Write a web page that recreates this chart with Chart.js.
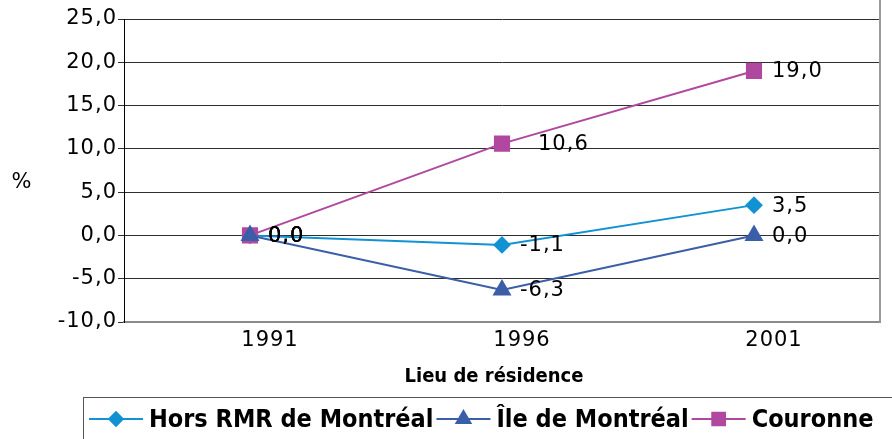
<!DOCTYPE html>
<html>
<head>
<meta charset="utf-8">
<script src="https://cdn.jsdelivr.net/npm/chart.js@4.4.0/dist/chart.umd.min.js"></script>
<style>
  body { margin: 0; background: #fff; }
  #wrap { width: 892px; height: 439px; }
</style>
</head>
<body>
<div id="wrap"><canvas id="evo-chart" width="892" height="439"></canvas></div>
<script>
// years on the x axis
var years = ['1991', '1996', '2001'];
// variation (%) per place of residence
var horsRmr = [0.0, -1.1, 3.5];
var ileMontreal = [0.0, -6.3, 0.0];
var couronne = [0.0, 10.6, 19.0];
var seriesNames = ['Hors RMR de Montréal', 'Île de Montréal', 'Couronne'];
var yTicks = [-10, -5, 0, 5, 10, 15, 20, 25];

var FONT = "'DejaVu Sans', sans-serif";
var FONT_BOLD = "'DejaVu Sans Condensed', 'Liberation Sans Narrow', sans-serif";

var fmt = function (v) { return v.toFixed(1).replace('.', ','); };

// labels next to each point, one dx per point
var labelDx = [[18, 18, 18], [18, 18, 18], [18, 36, 18]];

var spacing = function (chart) { chart.ctx.letterSpacing = '1px'; };

var extrasPlugin = {
  id: 'extras',
  beforeUpdate: spacing,
  beforeLayout: spacing,
  beforeDraw: spacing,
  afterDatasetsDraw: function (chart) {
    var ctx = chart.ctx;
    ctx.save();
    ctx.font = '21px ' + FONT;
    ctx.fillStyle = '#000';
    ctx.textBaseline = 'middle';
    ctx.textAlign = 'left';
    chart.data.datasets.forEach(function (ds, i) {
      var meta = chart.getDatasetMeta(i);
      meta.data.forEach(function (pt, j) {
        ctx.fillText(fmt(ds.data[j]), pt.x + labelDx[i][j], pt.y + 1);
      });
    });
    ctx.restore();
  },
  afterDraw: function (chart) {
    var ctx = chart.ctx;
    var area = chart.chartArea;
    ctx.save();
    // right border of plot
    ctx.strokeStyle = '#9a9a9a';
    ctx.lineWidth = 2;
    ctx.beginPath();
    ctx.moveTo(area.right, 0);
    ctx.lineTo(area.right, area.bottom);
    ctx.stroke();

    // "%" axis title
    ctx.fillStyle = '#000';
    ctx.font = '21px ' + FONT;
    ctx.textAlign = 'center';
    ctx.textBaseline = 'middle';
    ctx.fillText('%', 22, 183);

    // x axis title
    ctx.letterSpacing = '0px';
    ctx.font = 'bold 20px ' + FONT_BOLD;
    ctx.fillText('Lieu de résidence', 494, 377);

    // legend box
    ctx.strokeStyle = '#555';
    ctx.lineWidth = 1;
    ctx.strokeRect(83.5, 397.5, 830, 60);

    var x = 89, y = 419;
    ctx.font = 'bold 25px ' + FONT_BOLD;
    ctx.textAlign = 'left';
    chart.data.datasets.forEach(function (ds, i) {
      ctx.strokeStyle = ds.borderColor;
      ctx.lineWidth = 2;
      ctx.beginPath();
      ctx.moveTo(x, y);
      ctx.lineTo(x + 54, y);
      ctx.stroke();
      ctx.fillStyle = ds.pointBackgroundColor;
      ctx.strokeStyle = ds.pointBackgroundColor;
      Chart.helpers.drawPoint(ctx, {
        pointStyle: ds.pointStyle,
        radius: ds.pointRadius * 0.9,
        rotation: 0,
        borderWidth: 1
      }, x + 27, y);
      ctx.fillStyle = '#000';
      ctx.fillText(seriesNames[i], x + 60, y + 1);
      x += 60 + ctx.measureText(seriesNames[i]).width + 3;
    });
    ctx.restore();
  }
};

var ctx = document.getElementById('evo-chart').getContext('2d');
new Chart(ctx, {
  type: 'line',
  data: {
    labels: years,
    datasets: [{
      label: seriesNames[0],
      data: horsRmr,
      borderColor: '#1192d3',
      backgroundColor: '#1192d3',
      pointBackgroundColor: '#1192d3',
      pointBorderColor: '#1192d3',
      pointStyle: 'rectRot',
      pointRadius: 7.5,
      borderWidth: 2,
      order: 2
    }, {
      label: seriesNames[1],
      data: ileMontreal,
      borderColor: '#3a5ea8',
      backgroundColor: '#3a5ea8',
      pointBackgroundColor: '#3a5ea8',
      pointBorderColor: '#3a5ea8',
      pointStyle: 'triangle',
      pointRadius: 9,
      borderWidth: 2,
      order: 0
    }, {
      label: seriesNames[2],
      data: couronne,
      borderColor: '#b0489f',
      backgroundColor: '#b0489f',
      pointBackgroundColor: '#b0489f',
      pointBorderColor: '#b0489f',
      pointStyle: 'rect',
      pointRadius: 10,
      borderWidth: 2,
      order: 1
    }]
  },
  options: {
    responsive: false,
    animation: false,
    layout: { padding: { top: 19, right: 1, left: 0, bottom: 0 } },
    plugins: {
      legend: { display: false },
      tooltip: { enabled: false }
    },
    scales: {
      x: {
        offset: true,
        grid: { display: false, drawTicks: false },
        border: { display: true, color: '#8c8c8c', width: 2 },
        ticks: {
          color: '#000',
          font: { family: FONT, size: 21 },
          padding: 6,
          labelOffset: 20
        },
        afterFit: function (s) { s.height = 117; }
      },
      y: {
        min: yTicks[0],
        max: yTicks[yTicks.length - 1],
        afterBuildTicks: function (s) {
          s.ticks = yTicks.map(function (v) { return { value: v }; });
        },
        grid: { color: '#2e2e2e', lineWidth: 1, tickLength: 6 },
        border: { display: true, color: '#000', width: 1 },
        ticks: {
          color: '#000',
          font: { family: FONT, size: 21 },
          padding: 1,
          callback: function (v) { return fmt(v); }
        },
        afterFit: function (s) { s.width = 124; }
      }
    }
  },
  plugins: [extrasPlugin]
});
</script>
</body>
</html>
